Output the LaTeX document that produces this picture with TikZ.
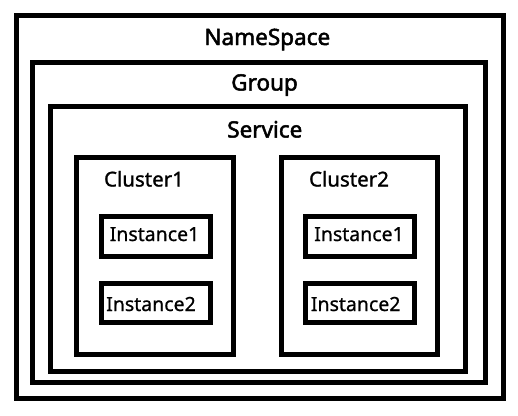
\documentclass[tikz,border=0pt]{standalone}
\usepackage{fontspec}
\setmainfont{Noto Sans}
\newfontfamily\tfont{Noto Sans}[FakeBold=2.2]
\newfontfamily\cfont{Noto Sans}[FakeBold=1.2]
\newfontfamily\ifont{Noto Sans}[FakeBold=0.8]
\begin{document}
\begin{tikzpicture}[x=1pt,y=-1pt,
  box/.style={draw=black,line width=5pt,rectangle,inner sep=0pt,fill=none},
  bigtitle/.style={anchor=base,inner sep=0pt,font=\fontsize{22.5}{22.5}\tfont},
  ctitle/.style={anchor=base,inner sep=0pt,font=\fontsize{20.5}{20.5}\cfont},
  itext/.style={anchor=base,inner sep=0pt,font=\fontsize{19.5}{19.5}\ifont}]
\useasboundingbox[fill=white] (0,0) rectangle (518,415);
\node[box,minimum width=486.5pt,minimum height=383pt] (ns) at (259.75,206.5) {};
\node[box,minimum width=453pt,minimum height=319.5pt] (grp) at (258.5,222.25) {};
\node[box,minimum width=415pt,minimum height=265pt] (svc) at (257.5,238.5) {};
\node[box,minimum width=157pt,minimum height=197pt] (c1) at (154.5,256) {};
\node[box,minimum width=156.7pt,minimum height=197pt] (c2) at (359.35,256) {};
\node[box,minimum width=109pt,minimum height=39.3pt] (i11) at (155.5,236.35) {};
\node[box,minimum width=109pt,minimum height=39pt] (i12) at (155.5,303) {};
\node[box,minimum width=109.2pt,minimum height=39.3pt] (i21) at (360.1,236.35) {};
\node[box,minimum width=109.2pt,minimum height=39pt] (i22) at (360.1,303) {};
\node[bigtitle] (tns) at (267.3,45) {NameSpace};
\node[bigtitle] (tgrp) at (264.5,90.5) {Group};
\node[bigtitle] (tsvc) at (264.8,137.5) {Service};
\node[ctitle] (tc1) at (144,186.5) {Cluster1};
\node[ctitle] (tc2) at (349,186.5) {Cluster2};
\node[itext] (ti11) at (154.5,241) {Instance1};
\node[itext] (ti12) at (151,311) {Instance2};
\node[itext] (ti21) at (359,241) {Instance1};
\node[itext] (ti22) at (355.7,311) {Instance2};
\end{tikzpicture}
\end{document}
